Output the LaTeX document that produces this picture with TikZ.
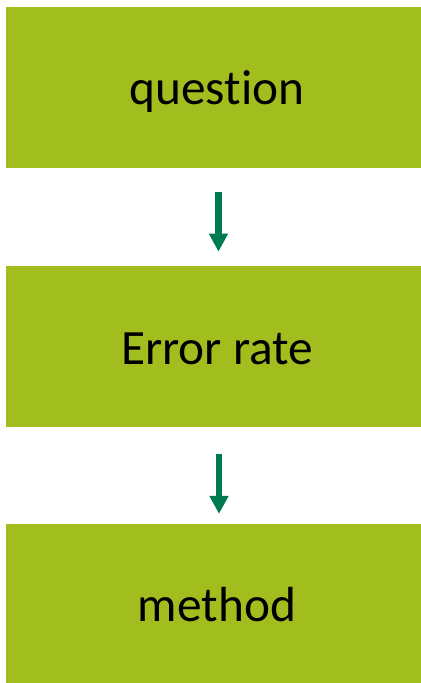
\documentclass[tikz,border=0pt]{standalone}
\usepackage{fontspec}
\setmainfont{Carlito}[RawFeature=-liga]
\usetikzlibrary{arrows.meta}
\definecolor{boxgreen}{RGB}{161,190,30}
\definecolor{arrowgreen}{RGB}{0,122,83}
\begin{document}
\begin{tikzpicture}[x=0.75pt,y=-0.75pt,
  flowbox/.style={fill=boxgreen,draw=none,inner sep=0pt,minimum width=316.5pt,minimum height=120.75pt,
    text height=26.6pt,text depth=0pt,font=\fontsize{37}{41}\selectfont,text=black},
  flowarrow/.style={draw=arrowgreen,line width=4.7pt,-{Triangle[width=13.5pt,length=13.5pt]}}]
\useasboundingbox (0,0) rectangle (421,683);
\clip (0,0) rectangle (421,683);
\node[flowbox] (q) at (217,87.2) {question};
\node[flowbox] (e) at (217,346.7) {Error rate};
\node[flowbox] (m) at (217,604) {method};
\draw[flowarrow,shorten <=18.3pt,shorten >=10.7pt] ([xshift=1.1pt]q.south) -- ([xshift=1.1pt]e.north);
\draw[flowarrow,shorten <=20.2pt,shorten >=7pt] ([xshift=1.5pt]e.south) -- ([xshift=1.5pt]m.north);
\end{tikzpicture}
\end{document}
